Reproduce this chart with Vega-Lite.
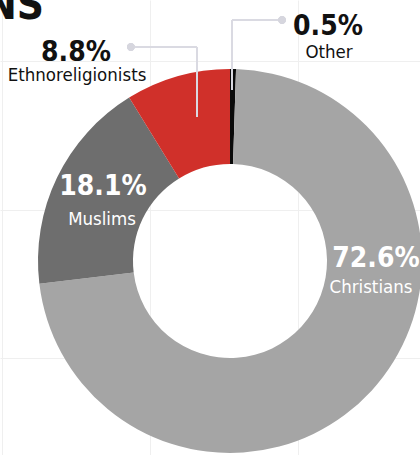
{
  "$schema": "https://vega.github.io/schema/vega-lite/v6.json",
  "width": 420,
  "height": 455,
  "autosize": "none",
  "padding": 0,
  "background": "white",
  "config": {"view": {"stroke": null}},
  "datasets": {
    "religions": [
      {"cat": "Other", "pct": "0.5%", "share": 0.5, "rank": 1},
      {"cat": "Christians", "pct": "72.6%", "share": 72.6, "rank": 2},
      {"cat": "Muslims", "pct": "18.1%", "share": 18.1, "rank": 3},
      {"cat": "Ethnoreligionists", "pct": "8.8%", "share": 8.8, "rank": 4}
    ]
  },
  "data": {"name": "religions"},
  "layer": [
    {
      "mark": {"type": "arc", "outerRadius": 192, "innerRadius": 97},
      "encoding": {
        "x": {"datum": 0, "type": "quantitative",
          "scale": {"domain": [-1.19792, 0.98958], "nice": false, "zero": false},
          "axis": {"values": [-1.1875, -0.41667, 0.35417], "grid": true, "gridColor": "#efefef", "gridWidth": 1, "domain": false, "labels": false, "ticks": false, "title": null}},
        "y": {"datum": 0, "type": "quantitative",
          "scale": {"domain": [-1.01042, 1.359375], "nice": false, "zero": false},
          "axis": {"values": [1.04167, 0.265625, -0.505208], "grid": true, "gridColor": "#efefef", "gridWidth": 1, "domain": false, "labels": false, "ticks": false, "title": null}},
        "theta": {"field": "share", "type": "quantitative", "stack": true},
        "order": {"field": "rank", "type": "quantitative"},
        "color": {"field": "cat", "type": "nominal",
          "scale": {"domain": ["Christians", "Muslims", "Ethnoreligionists", "Other"], "range": ["#a5a5a5", "#6e6e6e", "#d0302a", "#0a0a0a"]},
          "legend": null}
      }
    },
    {
      "mark": {"type": "rule", "color": "#dadae2", "strokeWidth": 1.5},
      "encoding": {
        "x": {"datum": -0.516, "type": "quantitative"},
        "x2": {"datum": -0.172},
        "y": {"datum": 1.1146, "type": "quantitative"}
      }
    },
    {
      "mark": {"type": "rule", "color": "#dadae2", "strokeWidth": 1.5},
      "encoding": {
        "x": {"datum": -0.172, "type": "quantitative"},
        "y": {"datum": 1.1146, "type": "quantitative"},
        "y2": {"datum": 0.75}
      }
    },
    {
      "mark": {"type": "rule", "color": "#dadae2", "strokeWidth": 1.5},
      "encoding": {
        "x": {"datum": 0.271, "type": "quantitative"},
        "x2": {"datum": 0.0104},
        "y": {"datum": 1.2552, "type": "quantitative"}
      }
    },
    {
      "mark": {"type": "rule", "color": "#dadae2", "strokeWidth": 1.5},
      "encoding": {
        "x": {"datum": 0.0104, "type": "quantitative"},
        "y": {"datum": 1.2552, "type": "quantitative"},
        "y2": {"datum": 0.8906}
      }
    },
    {
      "mark": {"type": "point", "filled": true, "size": 55, "color": "#d6d6de", "opacity": 1},
      "encoding": {
        "x": {"datum": -0.516, "type": "quantitative"},
        "y": {"datum": 1.1146, "type": "quantitative"}
      }
    },
    {
      "mark": {"type": "point", "filled": true, "size": 55, "color": "#d6d6de", "opacity": 1},
      "encoding": {
        "x": {"datum": 0.271, "type": "quantitative"},
        "y": {"datum": 1.2552, "type": "quantitative"}
      }
    },
    {
      "mark": {"type": "text", "font": "'DejaVu Sans Condensed', 'Roboto Condensed', 'Liberation Sans Narrow', Roboto", "fontSize": 28, "fontWeight": "bold", "align": "center", "baseline": "alphabetic",
        "dx": {"expr": "{'Christians': 146, 'Muslims': -127, 'Ethnoreligionists': -154, 'Other': 98}[datum.cat]"},
        "dy": {"expr": "{'Christians': 6, 'Muslims': -66, 'Ethnoreligionists': -200, 'Other': -226}[datum.cat]"},
        "fill": {"expr": "datum.cat == 'Christians' || datum.cat == 'Muslims' ? '#ffffff' : '#111111'"}},
      "encoding": {
        "x": {"datum": 0, "type": "quantitative"},
        "y": {"datum": 0, "type": "quantitative"},
        "text": {"field": "pct"}
      }
    },
    {
      "mark": {"type": "text", "font": "'DejaVu Sans Condensed', 'Roboto Condensed', 'Liberation Sans Narrow', Roboto", "fontSize": 18.5, "align": "center", "baseline": "alphabetic",
        "dx": {"expr": "{'Christians': 141, 'Muslims': -128, 'Ethnoreligionists': -153, 'Other': 99}[datum.cat]"},
        "dy": {"expr": "{'Christians': 32, 'Muslims': -36, 'Ethnoreligionists': -180, 'Other': -203}[datum.cat]"},
        "fill": {"expr": "datum.cat == 'Christians' || datum.cat == 'Muslims' ? '#ffffff' : '#111111'"}},
      "encoding": {
        "x": {"datum": 0, "type": "quantitative"},
        "y": {"datum": 0, "type": "quantitative"},
        "text": {"field": "cat"}
      }
    },
    {
      "data": {"values": [{"t": "NS"}]},
      "mark": {"type": "text", "font": "'DejaVu Sans Condensed', 'Roboto Condensed', 'Liberation Sans Narrow', Roboto", "fontSize": 42, "fontWeight": "bold", "align": "right", "baseline": "alphabetic", "color": "#111111", "dx": -186, "dy": -242},
      "encoding": {
        "x": {"datum": 0, "type": "quantitative"},
        "y": {"datum": 0, "type": "quantitative"},
        "text": {"field": "t"}
      }
    }
  ]
}
